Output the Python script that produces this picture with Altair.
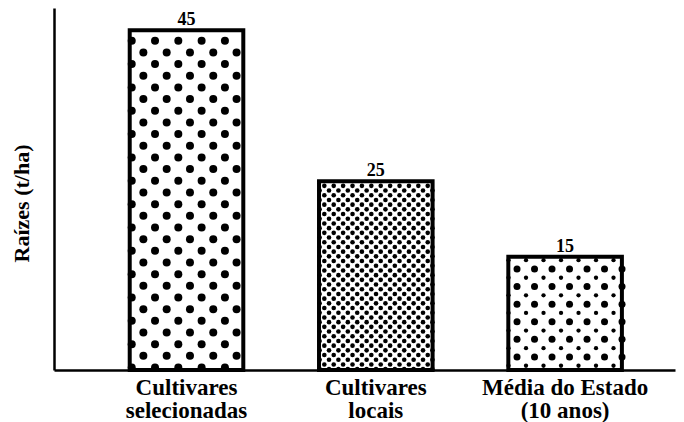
import altair as alt
import pandas as pd

# ---- data ----
categories = ["Cultivares\nselecionadas", "Cultivares\nlocais", "Média do Estado\n(10 anos)"]
values = [45, 25, 15]
value_labels = ["45", "25", "15"]
y_title = "Raízes (t/ha)"

# ---- layout / style ----
W, H = 621, 362
X_MIN = -0.70
PX = 189.3                    # pixels per x unit
X_MAX = X_MIN + W / PX
PY = 7.55                     # pixels per y unit
Y_MAX = H / PY
HALF = 0.30                   # half bar width in x units
FONT = "Liberation Serif"

bars = pd.DataFrame({
    "idx": list(range(len(categories))),
    "cat": categories,
    "val": values,
    "lab": value_labels,
})
bars["left"] = bars["idx"] - HALF
bars["right"] = bars["idx"] + HALF
bars["zero"] = 0

# dot-texture styles for each bar (pixel spacing, offsets, dot diameter)
textures = [
    [dict(dx=23.3, dy=11.67, x0=2.0, y0=10.5, shift=11.65, d=8.0)],
    [dict(dx=9.4, dy=4.7, x0=5.3, y0=4.6, shift=4.7, d=4.6)],
    [dict(dx=17.5, dy=17.6, x0=8.7, y0=12.2, shift=0.0, d=7.0),
     dict(dx=17.5, dy=17.6, x0=0.2, y0=3.4, shift=0.0, d=4.3)],
]

rows = []
for i, v in enumerate(values):
    w_px = 2 * HALF * PX
    h_px = v * PY
    for t in textures[i]:
        j = 0
        while t["y0"] + j * t["dy"] <= h_px + 1:
            ypx = t["y0"] + j * t["dy"]
            start = t["x0"] + (t["shift"] if j % 2 else 0.0)
            while start - t["dx"] >= -1:
                start -= t["dx"]
            k = 0
            while start + k * t["dx"] <= w_px + 1:
                xpx = start + k * t["dx"]
                if xpx >= -1:
                    rows.append({
                        "x": (i - HALF) + xpx / PX,
                        "y": v - ypx / PY,
                        "s": t["d"] ** 2,
                    })
                k += 1
            j += 1
dots = pd.DataFrame(rows)

xs = alt.Scale(domain=[X_MIN, X_MAX], nice=False, zero=False)
ys = alt.Scale(domain=[0, Y_MAX], nice=False)

x_axis = alt.Axis(labels=False, ticks=False, grid=False, title=None,
                  domainColor="black", domainWidth=2.5)
y_axis = alt.Axis(labels=False, ticks=False, grid=False, title=y_title,
                  domainColor="black", domainWidth=2.5,
                  titleFont=FONT, titleFontSize=22, titleFontWeight="bold",
                  titleColor="black", titleX=-26, titleY=195,
                  titleAlign="center", titleBaseline="alphabetic", titleAngle=270)

base = alt.Chart(bars)

fill = base.mark_rect(fill="white").encode(
    x=alt.X("left:Q", scale=xs, axis=x_axis),
    x2="right:Q",
    y=alt.Y("val:Q", scale=ys, axis=y_axis),
    y2="zero:Q",
)

dot_layer = alt.Chart(dots).mark_circle(color="black", opacity=1).encode(
    x=alt.X("x:Q", scale=xs),
    y=alt.Y("y:Q", scale=ys),
    size=alt.Size("s:Q", scale=None, legend=None),
)

outline = base.mark_rect(fill="white", fillOpacity=0, stroke="black", strokeWidth=4).encode(
    x=alt.X("left:Q", scale=xs),
    x2="right:Q",
    y=alt.Y("val:Q", scale=ys),
    y2="zero:Q",
)

value_text = base.mark_text(font=FONT, fontSize=18, fontWeight="bold", color="black",
                            baseline="alphabetic", dy=-5).encode(
    x=alt.X("idx:Q", scale=xs),
    y=alt.Y("val:Q", scale=ys),
    text="lab:N",
)

cat_text = base.mark_text(font=FONT, fontSize=23, fontWeight="bold", color="black",
                          baseline="alphabetic", lineBreak="\n", lineHeight=23).encode(
    x=alt.X("idx:Q", scale=xs),
    y=alt.value(387),
    text="cat:N",
)

chart = alt.layer(fill, dot_layer, outline, value_text, cat_text).properties(
    width=W, height=H,
    autosize=alt.AutoSizeParams(type="none"),
    padding={"left": 46, "top": 0, "right": 1, "bottom": 52},
).configure_view(stroke=None)

chart.save("out.html", embed_options={"renderer": "svg", "actions": False})
